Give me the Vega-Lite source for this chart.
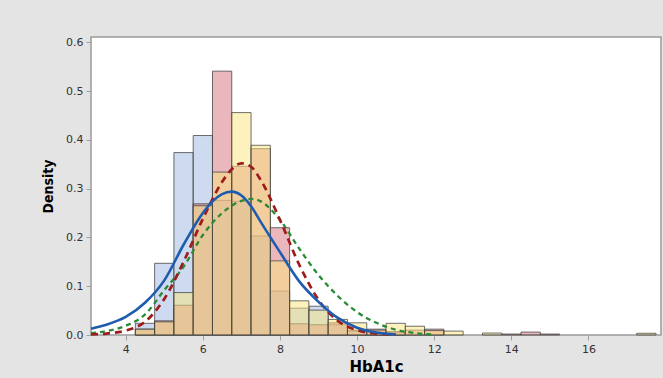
{
  "$schema": "https://vega.github.io/schema/vega-lite/v6.json",
  "width": 570,
  "height": 298,
  "autosize": {"type": "none"},
  "padding": {"left": 91, "top": 37, "right": 2, "bottom": 43},
  "background": "#e4e4e4",
  "config": {
    "view": {"stroke": "#9a9a9a", "strokeWidth": 1.5, "fill": "white"},
    "axis": {
      "labelFont": "DejaVu Sans",
      "labelFontSize": 11,
      "labelColor": "#333333",
      "tickColor": "#a0a0a0",
      "tickSize": 5,
      "domain": false,
      "grid": false,
      "titleFont": "DejaVu Sans",
      "titleFontWeight": "bold",
      "titleColor": "#000000"
    }
  },
  "datasets": {
    "bars": [
      {"group": "A", "x0": 4.25, "x1": 4.75, "density": 0.024},
      {"group": "A", "x0": 4.75, "x1": 5.25, "density": 0.147},
      {"group": "A", "x0": 5.25, "x1": 5.75, "density": 0.374},
      {"group": "A", "x0": 5.75, "x1": 6.25, "density": 0.409},
      {"group": "A", "x0": 6.25, "x1": 6.75, "density": 0.276},
      {"group": "A", "x0": 6.75, "x1": 7.25, "density": 0.274},
      {"group": "A", "x0": 7.25, "x1": 7.75, "density": 0.203},
      {"group": "A", "x0": 7.75, "x1": 8.25, "density": 0.09},
      {"group": "A", "x0": 8.25, "x1": 8.75, "density": 0.055},
      {"group": "A", "x0": 8.75, "x1": 9.25, "density": 0.059},
      {"group": "A", "x0": 9.25, "x1": 9.75, "density": 0.021},
      {"group": "A", "x0": 9.75, "x1": 10.25, "density": 0.008},
      {"group": "A", "x0": 10.25, "x1": 10.75, "density": 0.006},
      {"group": "A", "x0": 10.75, "x1": 11.25, "density": 0.005},
      {"group": "B", "x0": 4.25, "x1": 4.75, "density": 0.012},
      {"group": "B", "x0": 4.75, "x1": 5.25, "density": 0.029},
      {"group": "B", "x0": 5.25, "x1": 5.75, "density": 0.061},
      {"group": "B", "x0": 5.75, "x1": 6.25, "density": 0.269},
      {"group": "B", "x0": 6.25, "x1": 6.75, "density": 0.541},
      {"group": "B", "x0": 6.75, "x1": 7.25, "density": 0.346},
      {"group": "B", "x0": 7.25, "x1": 7.75, "density": 0.382},
      {"group": "B", "x0": 7.75, "x1": 8.25, "density": 0.22},
      {"group": "B", "x0": 8.25, "x1": 8.75, "density": 0.023},
      {"group": "B", "x0": 8.75, "x1": 9.25, "density": 0.021},
      {"group": "B", "x0": 9.25, "x1": 9.75, "density": 0.025},
      {"group": "B", "x0": 9.75, "x1": 10.25, "density": 0.01},
      {"group": "B", "x0": 10.25, "x1": 10.75, "density": 0.012},
      {"group": "B", "x0": 10.75, "x1": 11.25, "density": 0.007},
      {"group": "B", "x0": 11.25, "x1": 11.75, "density": 0.01},
      {"group": "B", "x0": 11.75, "x1": 12.25, "density": 0.012},
      {"group": "B", "x0": 13.75, "x1": 14.25, "density": 0.002},
      {"group": "B", "x0": 14.25, "x1": 14.75, "density": 0.006},
      {"group": "B", "x0": 14.75, "x1": 15.25, "density": 0.002},
      {"group": "C", "x0": 4.25, "x1": 4.75, "density": 0.012},
      {"group": "C", "x0": 4.75, "x1": 5.25, "density": 0.027},
      {"group": "C", "x0": 5.25, "x1": 5.75, "density": 0.087},
      {"group": "C", "x0": 5.75, "x1": 6.25, "density": 0.265},
      {"group": "C", "x0": 6.25, "x1": 6.75, "density": 0.334},
      {"group": "C", "x0": 6.75, "x1": 7.25, "density": 0.456},
      {"group": "C", "x0": 7.25, "x1": 7.75, "density": 0.389},
      {"group": "C", "x0": 7.75, "x1": 8.25, "density": 0.152},
      {"group": "C", "x0": 8.25, "x1": 8.75, "density": 0.07},
      {"group": "C", "x0": 8.75, "x1": 9.25, "density": 0.051},
      {"group": "C", "x0": 9.25, "x1": 9.75, "density": 0.032},
      {"group": "C", "x0": 9.75, "x1": 10.25, "density": 0.025},
      {"group": "C", "x0": 10.25, "x1": 10.75, "density": 0.01},
      {"group": "C", "x0": 10.75, "x1": 11.25, "density": 0.024},
      {"group": "C", "x0": 11.25, "x1": 11.75, "density": 0.018},
      {"group": "C", "x0": 11.75, "x1": 12.25, "density": 0.009},
      {"group": "C", "x0": 12.25, "x1": 12.75, "density": 0.008},
      {"group": "C", "x0": 13.25, "x1": 13.75, "density": 0.004},
      {"group": "C", "x0": 17.25, "x1": 17.75, "density": 0.0035}
    ],
    "curves": [
      {"group": "A", "x": 3.1, "density": 0.013},
      {"group": "A", "x": 3.5, "density": 0.021},
      {"group": "A", "x": 4.0, "density": 0.037},
      {"group": "A", "x": 4.5, "density": 0.066},
      {"group": "A", "x": 5.0, "density": 0.112},
      {"group": "A", "x": 5.5, "density": 0.185},
      {"group": "A", "x": 6.0, "density": 0.25},
      {"group": "A", "x": 6.25, "density": 0.274},
      {"group": "A", "x": 6.5, "density": 0.289},
      {"group": "A", "x": 6.75, "density": 0.294},
      {"group": "A", "x": 7.0, "density": 0.286},
      {"group": "A", "x": 7.25, "density": 0.264},
      {"group": "A", "x": 7.5, "density": 0.232},
      {"group": "A", "x": 8.0, "density": 0.17},
      {"group": "A", "x": 8.5, "density": 0.11},
      {"group": "A", "x": 9.0, "density": 0.068},
      {"group": "A", "x": 9.5, "density": 0.035},
      {"group": "A", "x": 10.0, "density": 0.015},
      {"group": "A", "x": 10.5, "density": 0.005},
      {"group": "A", "x": 11.0, "density": 0.001},
      {"group": "B", "x": 3.1, "density": 0.001},
      {"group": "B", "x": 3.5, "density": 0.003},
      {"group": "B", "x": 4.0, "density": 0.009},
      {"group": "B", "x": 4.5, "density": 0.027},
      {"group": "B", "x": 5.0, "density": 0.074},
      {"group": "B", "x": 5.5, "density": 0.15},
      {"group": "B", "x": 6.0, "density": 0.238},
      {"group": "B", "x": 6.5, "density": 0.314},
      {"group": "B", "x": 6.75, "density": 0.34},
      {"group": "B", "x": 7.0, "density": 0.352},
      {"group": "B", "x": 7.25, "density": 0.345},
      {"group": "B", "x": 7.5, "density": 0.318},
      {"group": "B", "x": 8.0, "density": 0.236},
      {"group": "B", "x": 8.5, "density": 0.144},
      {"group": "B", "x": 9.0, "density": 0.072},
      {"group": "B", "x": 9.5, "density": 0.029},
      {"group": "B", "x": 10.0, "density": 0.01},
      {"group": "B", "x": 10.5, "density": 0.003},
      {"group": "B", "x": 11.0, "density": 0.001},
      {"group": "C", "x": 3.1, "density": 0.004},
      {"group": "C", "x": 3.5, "density": 0.008},
      {"group": "C", "x": 4.0, "density": 0.019},
      {"group": "C", "x": 4.5, "density": 0.042},
      {"group": "C", "x": 5.0, "density": 0.092},
      {"group": "C", "x": 5.5, "density": 0.14},
      {"group": "C", "x": 6.0, "density": 0.205},
      {"group": "C", "x": 6.5, "density": 0.25},
      {"group": "C", "x": 7.0, "density": 0.275},
      {"group": "C", "x": 7.25, "density": 0.279},
      {"group": "C", "x": 7.5, "density": 0.274},
      {"group": "C", "x": 8.0, "density": 0.236},
      {"group": "C", "x": 8.5, "density": 0.177},
      {"group": "C", "x": 9.0, "density": 0.123},
      {"group": "C", "x": 9.5, "density": 0.08},
      {"group": "C", "x": 10.0, "density": 0.047},
      {"group": "C", "x": 10.5, "density": 0.025},
      {"group": "C", "x": 11.0, "density": 0.011},
      {"group": "C", "x": 11.5, "density": 0.004},
      {"group": "C", "x": 12.0, "density": 0.001}
    ]
  },
  "layer": [
    {
      "data": {"name": "bars"},
      "mark": {"type": "rect", "fillOpacity": 0.5, "stroke": "#3f3f3f", "strokeOpacity": 0.75, "strokeWidth": 1},
      "encoding": {
        "x": {
          "field": "x0", "type": "quantitative",
          "scale": {"domain": [3.1, 17.88], "nice": false, "zero": false},
          "axis": {"values": [4, 6, 8, 10, 12, 14, 16], "title": "HbA1c", "titleFontSize": 15, "labelPadding": 3, "titlePadding": 5}
        },
        "x2": {"field": "x1"},
        "y": {
          "field": "density", "type": "quantitative",
          "scale": {"domain": [0, 0.611], "nice": false},
          "axis": {"values": [0, 0.1, 0.2, 0.3, 0.4, 0.5, 0.6], "format": ".1f", "title": "Density", "titleFont": "DejaVu Sans Condensed", "titleFontSize": 14, "labelPadding": 3, "titlePadding": 10}
        },
        "y2": {"datum": 0},
        "color": {
          "field": "group", "type": "nominal",
          "scale": {"domain": ["A", "B", "C"], "range": ["#9bb6e0", "#d5707a", "#fbe67e"]},
          "legend": null
        }
      }
    },
    {
      "data": {"name": "curves"},
      "transform": [{"filter": "datum.group === 'C'"}],
      "mark": {"type": "line", "interpolate": "monotone", "color": "#2a8a36", "strokeWidth": 2.3, "strokeDash": [5, 4]},
      "encoding": {
        "x": {"field": "x", "type": "quantitative"},
        "y": {"field": "density", "type": "quantitative"}
      }
    },
    {
      "data": {"name": "curves"},
      "transform": [{"filter": "datum.group === 'B'"}],
      "mark": {"type": "line", "interpolate": "monotone", "color": "#9e1b1b", "strokeWidth": 2.7, "strokeDash": [7, 5]},
      "encoding": {
        "x": {"field": "x", "type": "quantitative"},
        "y": {"field": "density", "type": "quantitative"}
      }
    },
    {
      "data": {"name": "curves"},
      "transform": [{"filter": "datum.group === 'A'"}],
      "mark": {"type": "line", "interpolate": "monotone", "color": "#1f5cb0", "strokeWidth": 2.6},
      "encoding": {
        "x": {"field": "x", "type": "quantitative"},
        "y": {"field": "density", "type": "quantitative"}
      }
    }
  ]
}
